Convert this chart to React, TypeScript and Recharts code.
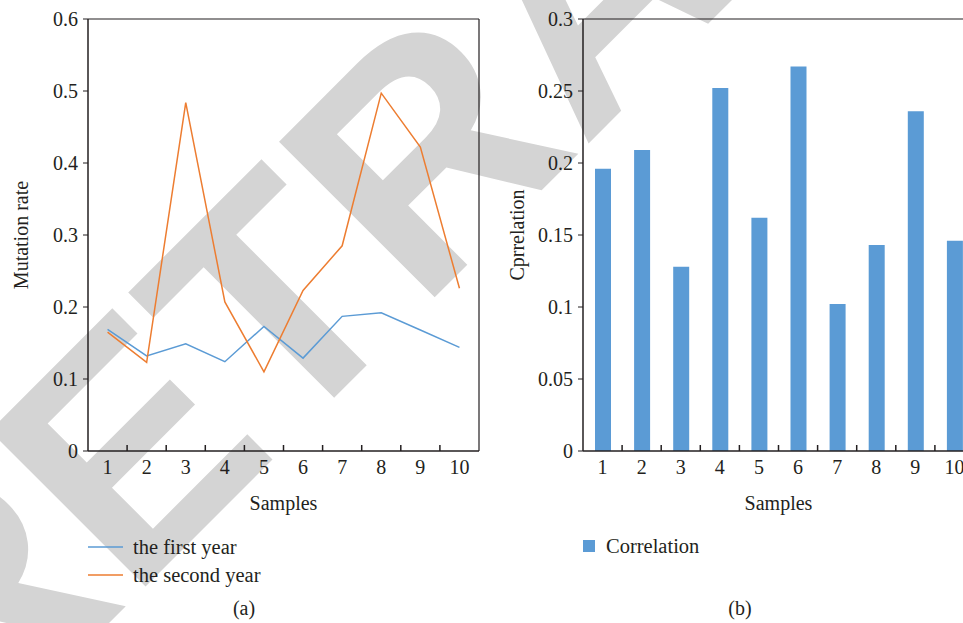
import { Bar, BarChart, Line, LineChart, XAxis, YAxis } from "recharts"

const SAMPLES = [1, 2, 3, 4, 5, 6, 7, 8, 9, 10]
const FIRST_YEAR = [0.169, 0.132, 0.149, 0.124, 0.173, 0.129, 0.187, 0.192, 0.168, 0.144]
const SECOND_YEAR = [0.165, 0.123, 0.484, 0.207, 0.11, 0.223, 0.285, 0.497, 0.422, 0.226]
const CORRELATION = [0.196, 0.209, 0.128, 0.252, 0.162, 0.267, 0.102, 0.143, 0.236, 0.146]

const MUTATION_TICKS = [0, 0.1, 0.2, 0.3, 0.4, 0.5, 0.6]
const CORRELATION_TICKS = [0, 0.05, 0.1, 0.15, 0.2, 0.25, 0.3]
const LINE_NAMES = ["the first year", "the second year"]
const BAR_NAME = "Correlation"

const INK = "#231f20"
const BLUE = "#5b9bd5"
const ORANGE = "#ed7d31"
const FONT = '"Liberation Serif", "Times New Roman", serif'

// labels on the samples, short inward marks between them
const SAMPLE_TICKS = SAMPLES.flatMap((s, i) => (i === 0 ? [s] : [s - 0.5, s]))
const X_DOMAIN = [SAMPLES[0] - 0.5, SAMPLES[SAMPLES.length - 1] + 0.5]

function SampleTick({ x, y, payload }: any) {
  const v = payload.value
  if (Number.isInteger(v)) {
    return (
      <text x={x} y={y} dy="0.71em" textAnchor="middle" fill={INK} fontSize={20} fontFamily={FONT}>
        {v}
      </text>
    )
  }
  return <line x1={x} x2={x} y1={y - 9} y2={y - 15} stroke={INK} strokeWidth={1.5} />
}

const tickStyle = { fill: INK, fontSize: 20, fontFamily: FONT }
const labelStyle = { fill: INK, fontSize: 20, fontFamily: FONT, textAnchor: "middle" as const }

// bottom axis with labels + top border line
function sampleAxes() {
  return [
    <XAxis
      key="x"
      dataKey="sample"
      type="number"
      domain={X_DOMAIN}
      ticks={SAMPLE_TICKS}
      interval={0}
      height={60}
      tickSize={0}
      tickMargin={9}
      tickLine={false}
      axisLine={{ stroke: INK, strokeWidth: 1.5 }}
      tick={SampleTick}
      label={{ value: "Samples", position: "insideBottom", offset: 1, style: labelStyle }}
    />,
    <XAxis
      key="top"
      xAxisId="top"
      orientation="top"
      type="number"
      domain={X_DOMAIN}
      height={1}
      tick={false}
      tickLine={false}
      axisLine={{ stroke: INK, strokeWidth: 1.2 }}
    />,
  ]
}

function LineLegend() {
  const colors = [BLUE, ORANGE]
  return (
    <div style={{ position: "absolute", left: 88, top: 533, fontFamily: FONT, fontSize: 20.5, color: INK }}>
      {LINE_NAMES.map((name, i) => (
        <div key={name} style={{ display: "flex", alignItems: "center", height: 28.3 }}>
          <svg width={35} height={4} style={{ marginRight: 10 }}>
            <line x1={0} x2={35} y1={2} y2={2} stroke={colors[i]} strokeWidth={1.5} />
          </svg>
          <span>{name}</span>
        </div>
      ))}
    </div>
  )
}

export default function App() {
  const rows = SAMPLES.map((s, i) => ({
    sample: s,
    first: FIRST_YEAR[i],
    second: SECOND_YEAR[i],
    corr: CORRELATION[i],
  }))

  return (
    <div
      style={{
        position: "absolute",
        left: 0,
        top: 0,
        width: 963,
        height: 623,
        overflow: "hidden",
        background: "#fff",
      }}
    >
      <svg width={963} height={623} style={{ position: "absolute", left: 0, top: 0 }}>
        <text
          x={-33}
          y={765}
          transform="rotate(-45 -33 765)"
          fontFamily='"Liberation Sans", Arial, sans-serif'
          fontWeight="bold"
          fontSize={320}
          fill="#d4d4d4"
        >
          RETRACTED
        </text>
      </svg>

      <div style={{ position: "absolute", left: 0, top: 0 }}>
        <LineChart width={482} height={623} data={rows} margin={{ top: 18, right: 2, bottom: 112, left: 0 }}>
          {sampleAxes()}
          <YAxis
            domain={[0, 0.6]}
            ticks={MUTATION_TICKS}
            width={88}
            tickSize={5}
            tickMargin={5}
            axisLine={{ stroke: INK, strokeWidth: 1.5 }}
            tickLine={{ stroke: INK }}
            tick={tickStyle}
            label={{ value: "Mutation rate", angle: -90, position: "insideLeft", offset: 21, style: labelStyle }}
          />
          <YAxis yAxisId="right" orientation="right" width={1} domain={[0, 0.6]} tick={false} tickLine={false} axisLine={{ stroke: INK, strokeWidth: 1.2 }} />
          <Line dataKey="first" name={LINE_NAMES[0]} stroke={BLUE} strokeWidth={1.5} dot={false} isAnimationActive={false} />
          <Line dataKey="second" name={LINE_NAMES[1]} stroke={ORANGE} strokeWidth={1.5} dot={false} isAnimationActive={false} />
        </LineChart>
      </div>
      <LineLegend />

      <div style={{ position: "absolute", left: 480, top: 0 }}>
        <BarChart width={495} height={623} data={rows} margin={{ top: 18, right: 0, bottom: 112, left: 0 }}>
          {sampleAxes()}
          <YAxis
            domain={[0, 0.3]}
            ticks={CORRELATION_TICKS}
            width={103}
            tickSize={5}
            tickMargin={5}
            axisLine={{ stroke: INK, strokeWidth: 1.5 }}
            tickLine={{ stroke: INK }}
            tick={tickStyle}
            label={{ value: "Cprrelation", angle: -90, position: "insideLeft", offset: 37, style: labelStyle }}
          />
          <YAxis yAxisId="right" orientation="right" width={1} domain={[0, 0.3]} tick={false} tickLine={false} axisLine={{ stroke: INK, strokeWidth: 1.2 }} />
          <Bar dataKey="corr" name={BAR_NAME} fill={BLUE} barSize={16} isAnimationActive={false} />
        </BarChart>
      </div>
      <div
        style={{
          position: "absolute",
          left: 583,
          top: 532,
          display: "flex",
          alignItems: "center",
          height: 28,
          fontFamily: FONT,
          fontSize: 20.5,
          color: INK,
        }}
      >
        <span style={{ width: 12, height: 12, background: BLUE, marginRight: 11 }} />
        <span>{BAR_NAME}</span>
      </div>

      <div style={{ position: "absolute", left: 224, top: 597, width: 40, textAlign: "center", fontFamily: FONT, fontSize: 20, color: INK }}>
        (a)
      </div>
      <div style={{ position: "absolute", left: 720, top: 597, width: 40, textAlign: "center", fontFamily: FONT, fontSize: 20, color: INK }}>
        (b)
      </div>
    </div>
  )
}
